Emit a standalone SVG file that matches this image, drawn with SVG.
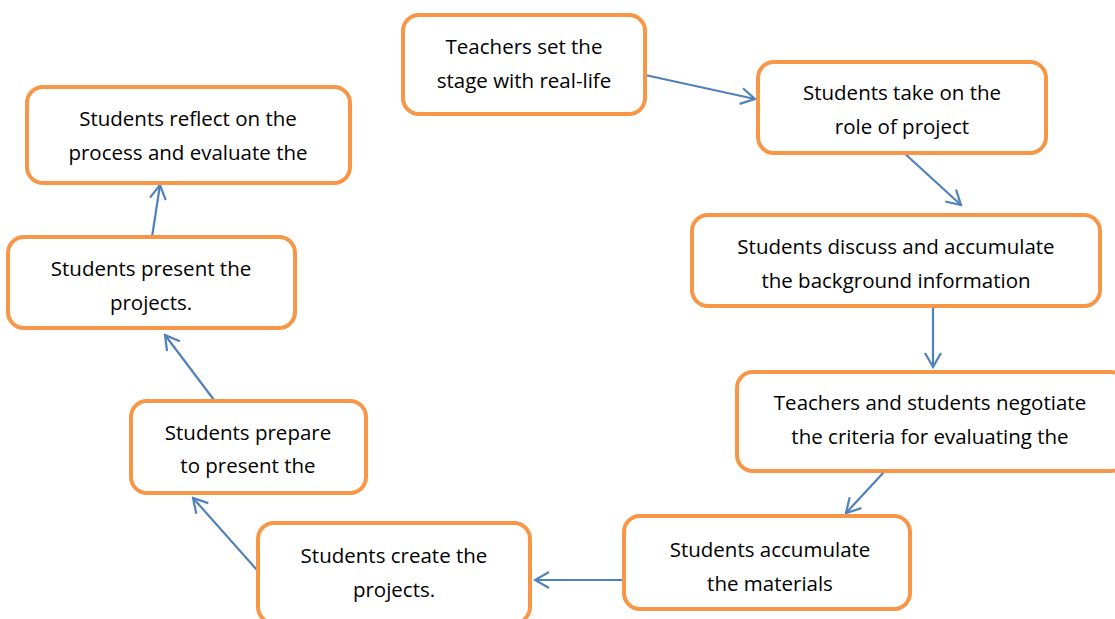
<svg xmlns="http://www.w3.org/2000/svg" width="1115" height="619" viewBox="0 0 1115 619">
<style>
.box{fill:#fff;stroke:#F79646;stroke-width:4}
.t{font-family:"Open Sans","Liberation Sans",sans-serif;font-size:20.5px;fill:#000;text-anchor:middle}
.c{stroke:#4F81BD;stroke-width:2.2;fill:none}
</style>
<defs>
<marker id="ah" markerUnits="userSpaceOnUse" markerWidth="20" markerHeight="20" viewBox="0 0 20 20" refX="18" refY="10" orient="auto">
<path d="M4,2 L18,10 L4,18" fill="none" stroke="#4F81BD" stroke-width="2.2"/>
</marker>
</defs>
<rect width="1115" height="619" fill="#fff"/>
<g id="connectors">
<line class="c" x1="645" y1="75" x2="755" y2="99" marker-end="url(#ah)"/>
<line class="c" x1="903" y1="152" x2="961" y2="205" marker-end="url(#ah)"/>
<line class="c" x1="933" y1="307" x2="933" y2="367" marker-end="url(#ah)"/>
<line class="c" x1="884" y1="472" x2="846" y2="513" marker-end="url(#ah)"/>
<line class="c" x1="624" y1="580" x2="535" y2="580" marker-end="url(#ah)"/>
<line class="c" x1="257" y1="570" x2="193" y2="498" marker-end="url(#ah)"/>
<line class="c" x1="214" y1="400" x2="165" y2="335" marker-end="url(#ah)"/>
<line class="c" x1="152" y1="237" x2="160" y2="185" marker-end="url(#ah)"/>
</g>
<g id="n1"><rect class="box" x="403" y="15" width="242" height="99" rx="16"/>
<text class="t" x="524" y="54">Teachers set the</text><text class="t" x="524" y="88">stage with real-life</text></g>
<g id="n2"><rect class="box" x="758" y="62" width="288" height="91" rx="16"/>
<text class="t" x="902" y="100">Students take on the</text><text class="t" x="902" y="134">role of project</text></g>
<g id="n3"><rect class="box" x="692" y="215" width="408" height="91" rx="16"/>
<text class="t" x="896" y="254">Students discuss and accumulate</text><text class="t" x="896" y="288">the background information</text></g>
<g id="n4"><rect class="box" x="737" y="372" width="390" height="99" rx="16"/>
<text class="t" x="930" y="410">Teachers and students negotiate</text><text class="t" x="930" y="444">the criteria for evaluating the</text></g>
<g id="n5"><rect class="box" x="624" y="516" width="286" height="93" rx="16"/>
<text class="t" x="770" y="557">Students accumulate</text><text class="t" x="770" y="591">the materials</text></g>
<g id="n6"><rect class="box" x="258" y="523" width="272" height="100" rx="16"/>
<text class="t" x="394" y="563">Students create the</text><text class="t" x="394" y="597">projects.</text></g>
<g id="n7"><rect class="box" x="131" y="401" width="235" height="92" rx="16"/>
<text class="t" x="248" y="440">Students prepare</text><text class="t" x="248" y="473">to present the</text></g>
<g id="n8"><rect class="box" x="8" y="237" width="287" height="91" rx="16"/>
<text class="t" x="151" y="276">Students present the</text><text class="t" x="151" y="310">projects.</text></g>
<g id="n9"><rect class="box" x="27" y="87" width="323" height="96" rx="16"/>
<text class="t" x="188" y="126">Students reflect on the</text><text class="t" x="188" y="160">process and evaluate the</text></g>
</svg>
